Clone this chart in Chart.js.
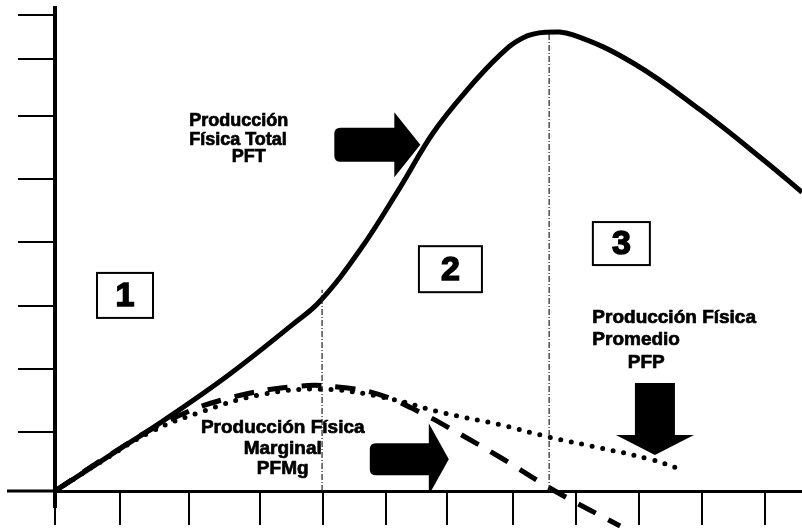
<!DOCTYPE html>
<html>
<head>
<meta charset="utf-8">
<script src="https://cdn.jsdelivr.net/npm/chart.js@4.4.1/dist/chart.umd.min.js"></script>
<style>
  html, body { margin: 0; padding: 0; background: #fff; }
  #wrap { width: 802px; height: 528px; }
</style>
</head>
<body>
<div id="wrap"><canvas id="chart" width="802" height="528"></canvas></div>
<script>
// -----------------------------
// Data (x = input units, y = output units)
// -----------------------------
const pftX = [0, 1.0, 1.63, 2.67, 3.69, 4.11, 4.73, 5.35, 5.86, 6.39, 6.90, 7.25, 7.60, 8.03, 8.96, 10.0, 11.04, 11.58];
const pftY = [0, 0.67, 1.09, 1.84, 2.67, 3.04, 3.86, 4.86, 5.73, 6.42, 6.98, 7.25, 7.34, 7.30, 6.85, 6.10, 5.25, 4.78];

const pfmgX = [0, 0.85, 1.78, 2.71, 3.80, 4.42, 5.04, 5.66, 6.28, 6.90, 7.75, 8.76];
const pfmgY = [0, 0.58, 1.14, 1.49, 1.68, 1.66, 1.54, 1.26, 0.91, 0.54, 0, -0.56];

const pfpX = [0, 0.70, 1.47, 2.25, 3.18, 4.11, 5.09, 6.02, 6.90, 7.67, 8.45, 9.22, 9.69];
const pfpY = [0, 0.46, 0.94, 1.26, 1.54, 1.63, 1.50, 1.25, 1.06, 0.86, 0.69, 0.51, 0.35];

// stage boundaries (vertical lines) and where they stop on top
const stageX = [4.14, 7.66];
const stageTop = [3.22, 7.34];
const stageNames = ["1", "2", "3"];

// hand drawn tick marks
const xTicks = [0, 1.01, 2.08, 3.18, 4.16, 5.13, 6.08, 7.10, 8.08, 9.05, 10.03, 11.0];
const yTicks = [0, 0.94, 1.95, 2.96, 3.98, 4.99, 6.0, 6.91, 7.62];

const pftLabel = ["Producción", "Física Total", "PFT"];
const pfmgLabel = ["Producción Física", "Marginal", "PFMg"];
const pfpLabel = ["Producción Física", "Promedio", "PFP"];

const pts = (xs, ys) => xs.map((x, i) => ({ x: x, y: ys[i] }));

// -----------------------------
// Annotation layout (positions in data units, sizes in px)
// -----------------------------
const FONT = '"Liberation Sans", Arial, sans-serif';

const boxes = [
  { u: 1.085, v: 3.13, w: 56, h: 45 },
  { u: 6.13, v: 3.55, w: 63, h: 46 },
  { u: 8.78, v: 3.96, w: 57, h: 43 }
];

const texts = [
  { lines: pftLabel, size: 18, align: "left", rows: [[2.08, 5.92], [2.08, 5.62], [2.74, 5.34]] },
  { lines: pfmgLabel, size: 19, align: "center", rows: [[3.53, 1.01], [3.53, 0.67], [3.53, 0.35]] },
  { lines: pfpLabel, size: 19, align: "left", rows: [[8.33, 2.77], [8.33, 2.42], [8.88, 2.06]] }
];

const arrows = [
  { dir: "right", u: 4.33, v: 5.54, bodyLen: 61, bodyH: 34, headLen: 25, headH: 65 },
  { dir: "right", u: 4.88, v: 0.51, bodyLen: 60, bodyH: 32, headLen: 19, headH: 72 },
  { dir: "down", u: 9.30, v: 1.73, bodyLen: 52, bodyH: 40, headLen: 20, headH: 78 }
];

function roundTail(ctx, x, y, w, h, r) {
  // rectangle with rounded corners on the tail side only
  ctx.moveTo(x + w, y);
  ctx.lineTo(x + r, y);
  ctx.quadraticCurveTo(x, y, x, y + r);
  ctx.lineTo(x, y + h - r);
  ctx.quadraticCurveTo(x, y + h, x + r, y + h);
  ctx.lineTo(x + w, y + h);
}

const notesPlugin = {
  id: "notes",
  afterDatasetsDraw(chart) {
    const { ctx, chartArea, scales } = chart;
    const px = u => scales.x.getPixelForValue(u);
    const py = v => scales.y.getPixelForValue(v);

    ctx.save();
    ctx.beginPath();
    ctx.rect(chartArea.left + 2, chartArea.top, chartArea.right - chartArea.left, chartArea.bottom - chartArea.top - 1);
    ctx.clip();

    // arrows
    ctx.fillStyle = "#000";
    arrows.forEach(a => {
      const x = px(a.u), y = py(a.v);
      ctx.beginPath();
      if (a.dir === "right") {
        const bt = y - a.bodyH / 2;
        roundTail(ctx, x, bt, a.bodyLen, a.bodyH, 6);
        ctx.closePath();
        ctx.fill();
        ctx.beginPath();
        ctx.moveTo(x + a.bodyLen - 1, y - a.headH / 2);
        ctx.lineTo(x + a.bodyLen + a.headLen, y);
        ctx.lineTo(x + a.bodyLen - 1, y + a.headH / 2);
        ctx.closePath();
        ctx.fill();
      } else {
        ctx.rect(x - a.bodyH / 2, y, a.bodyH, a.bodyLen + 1);
        ctx.fill();
        ctx.beginPath();
        ctx.moveTo(x - a.headH / 2, y + a.bodyLen);
        ctx.lineTo(x + a.headH / 2, y + a.bodyLen);
        ctx.lineTo(x, y + a.bodyLen + a.headLen);
        ctx.closePath();
        ctx.fill();
      }
    });

    // numbered stage boxes
    boxes.forEach((b, i) => {
      const x = px(b.u), y = py(b.v);
      ctx.fillStyle = "#fff";
      ctx.fillRect(x - b.w / 2, y - b.h / 2, b.w, b.h);
      ctx.lineWidth = 2;
      ctx.strokeStyle = "#000";
      ctx.strokeRect(x - b.w / 2, y - b.h / 2, b.w, b.h);
      ctx.fillStyle = "#000";
      ctx.font = "bold 34px " + FONT;
      ctx.textAlign = "center";
      ctx.textBaseline = "middle";
      ctx.lineWidth = 1.5;
      ctx.strokeText(stageNames[i], x, y + 1);
      ctx.fillText(stageNames[i], x, y + 1);
    });

    // curve labels (a thin stroke gives the heavy scanned look)
    texts.forEach(t => {
      ctx.fillStyle = "#000";
      ctx.strokeStyle = "#000";
      ctx.lineWidth = 0.7;
      ctx.font = "bold " + t.size + "px " + FONT;
      ctx.textAlign = t.align;
      ctx.textBaseline = "middle";
      t.lines.forEach((line, i) => {
        const x = px(t.rows[i][0]), y = py(t.rows[i][1]);
        ctx.strokeText(line, x, y);
        ctx.fillText(line, x, y);
      });
    });

    ctx.restore();
  },
  afterDraw(chart) {
    // the hand drawn axes cross a little past the origin
    const { ctx, chartArea } = chart;
    ctx.save();
    ctx.strokeStyle = "#000";
    ctx.lineWidth = 4;
    ctx.beginPath();
    ctx.moveTo(chartArea.left, chartArea.bottom);
    ctx.lineTo(chartArea.left, chartArea.bottom + 17);
    ctx.stroke();
    ctx.lineWidth = 3;
    ctx.beginPath();
    ctx.moveTo(7, chartArea.bottom);
    ctx.lineTo(chartArea.left, chartArea.bottom);
    ctx.stroke();
    ctx.restore();
  }
};

// -----------------------------
// Chart
// -----------------------------
const stageSets = stageX.map((x, i) => ({
  data: [{ x: x, y: 0 }, { x: x, y: stageTop[i] }],
  borderColor: "#222",
  borderWidth: 1.2,
  borderDash: [6, 2, 1, 2],
  pointRadius: 0
}));

new Chart(document.getElementById("chart").getContext("2d"), {
  type: "line",
  data: {
    datasets: [
      ...stageSets,
      {
        label: "PFP",
        data: pts(pfpX, pfpY),
        borderColor: "#000",
        borderWidth: 5,
        borderDash: [0, 10.7],
        borderCapStyle: "round",
        tension: 0.4,
        pointRadius: 0
      },
      {
        label: "PFMg",
        data: pts(pfmgX, pfmgY),
        borderColor: "#000",
        borderWidth: 5,
        borderDash: [20, 14],
        tension: 0.4,
        pointRadius: 0,
        clip: false
      },
      {
        label: "PFT",
        data: pts(pftX, pftY),
        borderColor: "#000",
        borderWidth: 5,
        tension: 0.4,
        pointRadius: 0
      }
    ]
  },
  options: {
    responsive: false,
    animation: false,
    devicePixelRatio: 1,
    layout: { padding: { top: 8, right: 0, left: 0, bottom: 0 } },
    plugins: { legend: { display: false }, tooltip: { enabled: false } },
    scales: {
      x: {
        type: "linear",
        min: 0,
        max: 11.58,
        afterBuildTicks: s => { s.ticks = xTicks.map(v => ({ value: v })); },
        afterFit: s => { s.height = 37; },
        ticks: { display: false },
        grid: { drawOnChartArea: false, drawTicks: true, tickLength: 34, lineWidth: 2, color: "#000" },
        border: { display: true, width: 3, color: "#000" }
      },
      y: {
        type: "linear",
        min: 0,
        max: 7.73,
        afterBuildTicks: s => { s.ticks = yTicks.map(v => ({ value: v })); },
        afterFit: s => { s.width = 55; },
        ticks: { display: false },
        grid: { drawOnChartArea: false, drawTicks: true, tickLength: 37, lineWidth: 2, color: "#000" },
        border: { display: true, width: 4, color: "#000" }
      }
    }
  },
  plugins: [notesPlugin]
});
</script>
</body>
</html>
